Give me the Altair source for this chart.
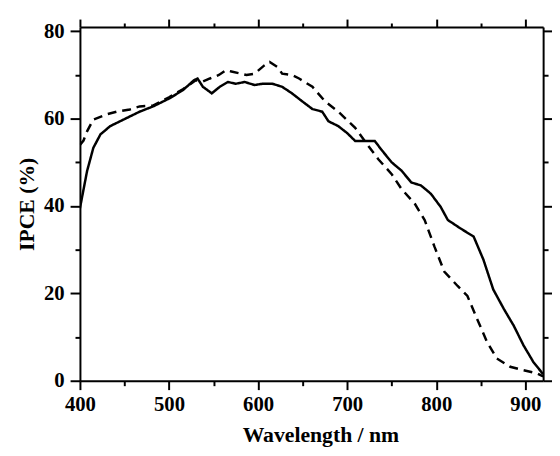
import altair as alt
import pandas as pd

# Solid curve
solid_wl = [400, 408, 415, 423, 434, 449, 467, 482, 501, 516, 528, 532, 538, 548, 557, 566,
            575, 585, 596, 605, 616, 627, 638, 650, 661, 672, 679, 690, 700, 709, 716, 731,
            738, 750, 761, 772, 783, 794, 805, 813, 827, 842, 853, 864, 876, 887, 898, 909, 920]
solid_v = [39.5, 48, 53.3, 56.4, 58.3, 59.8, 61.6, 62.8, 64.7, 66.6, 68.8, 69.2, 67.3, 65.8, 67.3, 68.4,
           68, 68.4, 67.7, 68, 68, 67.3, 65.8, 63.9, 62.2, 61.6, 59.4, 58.3, 56.7, 54.9, 54.9, 54.9,
           53, 50, 48.1, 45.4, 44.7, 42.8, 39.8, 36.8, 34.9, 33, 27.7, 20.9, 16.4, 12.6, 8.1, 4.3, 1.5]

# Dashed curve
dash_wl = [400, 404, 408, 415, 430, 441, 456, 467, 482, 500, 516, 530, 538, 546, 556, 564,
           570, 587, 596, 607, 613, 622, 627, 638, 646, 661, 675, 690, 709, 724, 735, 750,
           761, 776, 787, 798, 809, 824, 835, 846, 857, 868, 883, 898, 913, 920]
dash_v = [54, 55, 57.1, 59.8, 61, 61.6, 62.1, 62.8, 63, 64.9, 66.8, 68.8, 68.5, 69.2, 70, 71.1,
          70.8, 70, 70.3, 72.2, 73, 71.8, 70.3, 70, 69.2, 67.3, 64, 61.6, 57.9, 53.7, 50.7, 47.3,
          43.9, 40.5, 36.8, 30.7, 25, 21.7, 19.4, 14.1, 8.9, 5.1, 3.2, 2.4, 1.7, 1]

x_major = [400, 500, 600, 700, 800, 900]
x_minor = [450, 550, 650, 750, 850]
y_major = [0, 20, 40, 60, 80]
y_minor = [10, 30, 50, 70]

df = pd.concat([
    pd.DataFrame({"wl": solid_wl, "ipce": solid_v, "series": "solid"}),
    pd.DataFrame({"wl": dash_wl, "ipce": dash_v, "series": "dashed"}),
])

FONT = "Liberation Serif"
xs = alt.Scale(domain=[400, 920], nice=False, zero=False)
ys = alt.Scale(domain=[0, 81], nice=False)

def layer(xaxis, yaxis, visible):
    base = alt.Chart(df)
    if visible:
        m = base.mark_line(color="black", strokeWidth=2.5, clip=True)
    else:
        m = base.mark_line(opacity=0)
    enc = dict(
        x=alt.X("wl:Q", scale=xs, axis=xaxis),
        y=alt.Y("ipce:Q", scale=ys, axis=yaxis),
        detail="series:N",
    )
    if visible:
        enc["strokeDash"] = alt.StrokeDash(
            "series:N",
            scale=alt.Scale(domain=["solid", "dashed"], range=[[1, 0], [9, 6]]),
            legend=None,
        )
    return m.encode(**enc)

common = dict(domainColor="black", tickColor="black", domainWidth=2, tickWidth=2, grid=False)

main = layer(
    alt.Axis(orient="bottom", values=x_major, tickSize=9, labelFont=FONT, labelFontSize=21,
             labelFontWeight="bold", labelColor="black", labelPadding=4, labelFlush=False,
             title="Wavelength / nm", titleFont=FONT, titleFontSize=22, titleFontWeight="bold",
             titleColor="black", titlePadding=11, titleX=244, **common),
    alt.Axis(orient="left", values=y_major, tickSize=10, labelFont=FONT, labelFontSize=21,
             labelFontWeight="bold", labelColor="black", labelPadding=6, labelFlush=False,
             title="IPCE (%)", titleFont=FONT, titleFontSize=22, titleFontWeight="bold",
             titleColor="black", titlePadding=5, **common),
    True,
)
minor_in = layer(
    alt.Axis(orient="bottom", values=x_minor, tickSize=5, labels=False, domain=False, title=None, **common),
    alt.Axis(orient="left", values=y_minor, tickSize=5, labels=False, domain=False, title=None, **common),
    False,
)
top_right = layer(
    alt.Axis(orient="top", values=x_major, tickSize=8, labels=False, title=None, **common),
    alt.Axis(orient="right", values=y_major, tickSize=9, labels=False, title=None, **common),
    False,
)
top_right_minor = layer(
    alt.Axis(orient="top", values=x_minor, tickSize=4, labels=False, domain=False, title=None, **common),
    alt.Axis(orient="right", values=y_minor, tickSize=5, labels=False, domain=False, title=None, **common),
    False,
)

chart = alt.layer(main, minor_in, top_right, top_right_minor).resolve_axis(
    x="independent", y="independent"
).properties(
    width=470, height=359,
    autosize=alt.AutoSizeParams(type="none"),
    padding={"left": 73, "top": 16, "right": 9, "bottom": 64},
).configure_view(stroke=None).configure(background="white")

chart.save("out.html", embed_options={"renderer": "svg", "actions": False})
